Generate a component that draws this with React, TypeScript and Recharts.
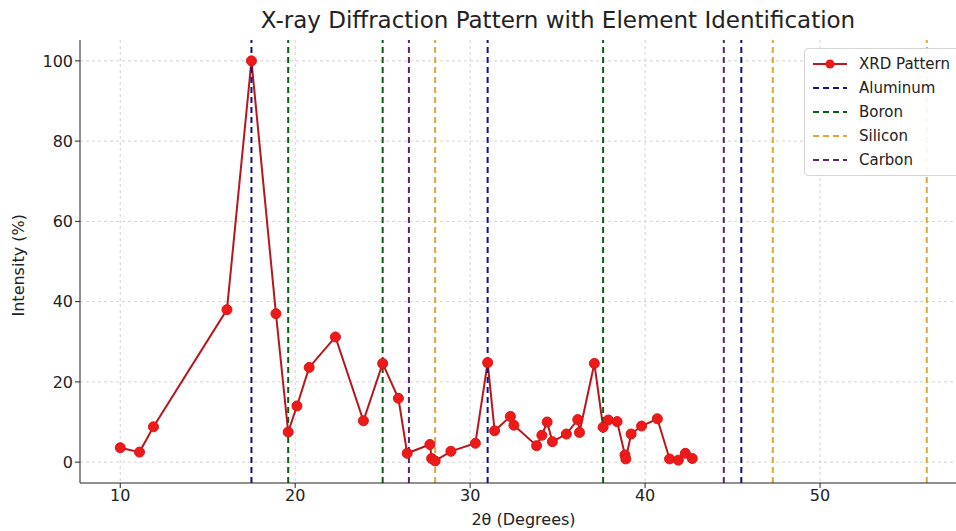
import { LineChart, Line, XAxis, YAxis, CartesianGrid, ReferenceLine } from 'recharts'

// measured pattern (2θ in degrees, intensity in %)
const twoTheta = [
  10.0, 11.1, 11.9, 16.1, 17.5, 18.9, 19.6, 20.1, 20.8, 22.3, 23.9, 25.0, 25.9, 26.4,
  27.7, 27.8, 28.0, 28.9, 30.3, 31.0, 31.4, 32.3, 32.5, 33.8, 34.1, 34.4, 34.7, 35.5,
  36.15, 36.25, 37.1, 37.6, 37.9, 38.4, 38.85, 38.9, 39.2, 39.8, 40.7, 41.4, 41.9, 42.3, 42.7,
]
const intensity = [
  3.6, 2.5, 8.8, 38.0, 100, 37.0, 7.5, 14.0, 23.6, 31.2, 10.3, 24.6, 15.9, 2.2,
  4.4, 0.9, 0.3, 2.7, 4.7, 24.8, 7.8, 11.4, 9.2, 4.1, 6.7, 10.0, 5.1, 7.0,
  10.6, 7.4, 24.6, 8.7, 10.5, 10.1, 1.8, 0.8, 7.0, 9.0, 10.8, 0.8, 0.5, 2.2, 0.9,
]

// reference peak positions per element
const aluminumPeaks = [17.5, 31.0, 45.5]
const boronPeaks = [19.6, 25.0, 37.6]
const siliconPeaks = [28.0, 47.3, 56.1]
const carbonPeaks = [26.5, 44.5]

const xTicks = [10, 20, 30, 40, 50]
const yTicks = [0, 20, 40, 60, 80, 100]

const elements = [
  { name: 'Aluminum', color: '#10137f', peaks: aluminumPeaks },
  { name: 'Boron', color: '#0b5e12', peaks: boronPeaks },
  { name: 'Silicon', color: '#dca838', peaks: siliconPeaks },
  { name: 'Carbon', color: '#5c2566', peaks: carbonPeaks },
]

const data = twoTheta.map((x, i) => ({ x, y: intensity[i] }))

const FONT = '"DejaVu Sans", sans-serif'

function LegendBox() {
  return (
    <div
      style={{
        position: 'absolute',
        top: 48,
        left: 804,
        whiteSpace: 'nowrap',
        background: 'rgba(255,255,255,0.9)',
        border: '1px solid #d4d4d4',
        borderRadius: 4,
        padding: '3px 10px 3px 6px',
        fontFamily: FONT,
        fontSize: 15,
        color: '#222',
        lineHeight: '24px',
      }}
    >
      <div style={{ display: 'flex', alignItems: 'center' }}>
        <svg width={38} height={14} style={{ marginRight: 10 }}>
          <line x1={2} y1={7} x2={36} y2={7} stroke="#c4161c" strokeWidth={2} />
          <circle cx={19} cy={7} r={4.5} fill="#ee1a1a" />
        </svg>
        XRD Pattern
      </div>
      {elements.map(el => (
        <div key={el.name} style={{ display: 'flex', alignItems: 'center' }}>
          <svg width={38} height={14} style={{ marginRight: 10 }}>
            <line x1={2} y1={7} x2={36} y2={7} stroke={el.color} strokeWidth={2} strokeDasharray="6 4" />
          </svg>
          {el.name}
        </div>
      ))}
    </div>
  )
}

export default function App() {
  return (
    <div style={{ position: 'absolute', left: 0, top: 0, width: 956, height: 531, overflow: 'hidden', background: '#fff' }}>
      <div
        style={{
          position: 'absolute',
          top: 7,
          left: 208,
          width: 700,
          textAlign: 'center',
          fontFamily: FONT,
          fontSize: 23,
          color: '#222',
        }}
      >
        X-ray Diffraction Pattern with Element Identification
      </div>
      <LineChart
        width={980}
        height={531}
        data={data}
        margin={{ top: 40, right: 13, left: 20, bottom: 18 }}
        style={{ position: 'absolute', left: 0, top: 0 }}
      >
        <CartesianGrid stroke="#d2d2d2" strokeDasharray="3 3" horizontalValues={yTicks} verticalValues={xTicks} />
        <XAxis
          dataKey="x"
          type="number"
          domain={[7.7, 58.4]}
          ticks={xTicks}
          allowDataOverflow
          tick={{ fontSize: 16, fill: '#222', fontFamily: FONT }}
          tickSize={5}
          stroke="#222"
          label={{ value: '2θ (Degrees)', position: 'insideBottom', offset: -12, fontSize: 16, fill: '#222', fontFamily: FONT }}
        />
        <YAxis
          type="number"
          domain={[-5.2, 105.2]}
          ticks={yTicks}
          allowDataOverflow
          width={60}
          tick={{ fontSize: 16, fill: '#222', fontFamily: FONT }}
          tickSize={5}
          stroke="#222"
          label={{ value: 'Intensity (%)', angle: -90, position: 'insideLeft', offset: -2, dy: 55, fontSize: 16, fill: '#222', fontFamily: FONT }}
        />
        <Line
          dataKey="y"
          type="linear"
          stroke="#b8161c"
          strokeWidth={2}
          dot={{ r: 5, fill: '#ee1a1a', stroke: '#dd1515', strokeWidth: 1 }}
          isAnimationActive={false}
        />
        {elements.flatMap(el =>
          el.peaks.map(p => (
            <ReferenceLine
              key={el.name + p}
              x={p}
              stroke={el.color}
              strokeWidth={2}
              strokeDasharray="6 4"
            />
          ))
        )}
      </LineChart>
      <LegendBox />
    </div>
  )
}
